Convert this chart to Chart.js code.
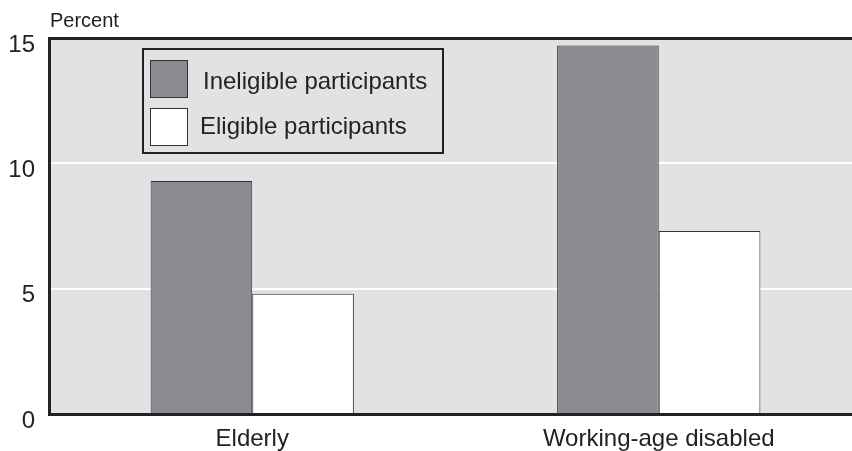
<!DOCTYPE html>
<html>
<head>
<meta charset="utf-8">
<script src="https://cdn.jsdelivr.net/npm/chart.js@4/dist/chart.umd.min.js"></script>
<style>
  html, body { margin: 0; padding: 0; background: #fff; overflow: hidden; }
  #wrap { width: 862px; height: 451px; }
</style>
</head>
<body>
<div id="wrap"><canvas id="chart"></canvas></div>
<script>
let categories = ['Elderly', 'Working-age disabled'];
let ineligible = [9.3, 14.7];
let eligible = [4.8, 7.3];
let yTicks = [0, 5, 10, 15];
let yTitle = 'Percent';

const FONT = 'Liberation Sans, Arial, Helvetica, sans-serif';
const BG = '#e1e2e3';

// plot background + "Percent" label
let backdrop = {
    id: 'backdrop',
    beforeDraw(chart) {
        const ctx = chart.ctx;
        const a = chart.chartArea;
        ctx.save();
        ctx.fillStyle = BG;
        ctx.fillRect(a.left, a.top, a.right - a.left, a.bottom - a.top);
        ctx.fillStyle = '#222';
        ctx.font = '20px ' + FONT;
        ctx.textBaseline = 'alphabetic';
        ctx.fillText(yTitle, 50, 27);
        ctx.restore();
    }
};

// boxed legend inside the plot
let boxLegend = {
    id: 'boxLegend',
    afterDatasetsDraw(chart) {
        const ctx = chart.ctx;
        ctx.save();
        ctx.fillStyle = BG;
        ctx.fillRect(143, 49, 300, 104);
        ctx.strokeStyle = '#222';
        ctx.lineWidth = 2;
        ctx.strokeRect(143, 49, 300, 104);
        ctx.font = '24px ' + FONT;
        ctx.textBaseline = 'alphabetic';
        let textX = [203, 200];
        let baseY = [89, 134];
        chart.data.datasets.forEach(function (ds, i) {
            let y = 60 + i * 48;
            ctx.fillStyle = ds.backgroundColor;
            ctx.fillRect(150, y, 38, 38);
            ctx.strokeStyle = '#333';
            ctx.lineWidth = 1;
            ctx.strokeRect(150.5, y + 0.5, 37, 37);
            ctx.fillStyle = '#222';
            ctx.fillText(ds.label, textX[i], baseY[i]);
        });
        ctx.restore();
    }
};

function initChart() {
    const ctx = document.getElementById('chart').getContext('2d');
    return new Chart(ctx, {
        type: 'bar',
        data: {
            labels: categories,
            datasets: [{
                label: 'Ineligible participants',
                data: ineligible,
                backgroundColor: '#8a8b8e',
                borderColor: '#333',
                borderWidth: 1,
                categoryPercentage: 0.5,
                barPercentage: 1.0
            }, {
                label: 'Eligible participants',
                data: eligible,
                backgroundColor: '#ffffff',
                borderColor: '#333',
                borderWidth: 1,
                categoryPercentage: 0.5,
                barPercentage: 1.0
            }]
        },
        options: {
            responsive: true,
            maintainAspectRatio: false,
            animation: false,
            layout: { padding: { top: 38, left: 0, right: 0, bottom: 0 } },
            plugins: {
                legend: { display: false },
                tooltip: { enabled: false }
            },
            scales: {
                x: {
                    grid: { display: false },
                    border: { display: true, color: '#222', width: 3 },
                    ticks: { color: '#222', font: { family: FONT, size: 24 }, padding: 3 },
                    afterFit: function (s) { s.height = 37; }
                },
                y: {
                    min: 0,
                    max: 15,
                    afterBuildTicks: function (s) { s.ticks = yTicks.map(function (v) { return { value: v }; }); },
                    grid: {
                        drawTicks: false,
                        color: function (c) { return c.tick && c.tick.value === 15 ? '#222' : '#ffffff'; },
                        lineWidth: function (c) { return c.tick && c.tick.value === 15 ? 3 : 2; }
                    },
                    border: { display: true, color: '#222', width: 3 },
                    ticks: { color: '#222', font: { family: FONT, size: 24 }, padding: 14, labelOffset: 7 },
                    afterFit: function (s) { s.width = 49; }
                }
            }
        },
        plugins: [backdrop, boxLegend]
    });
}

initChart();
</script>
</body>
</html>
